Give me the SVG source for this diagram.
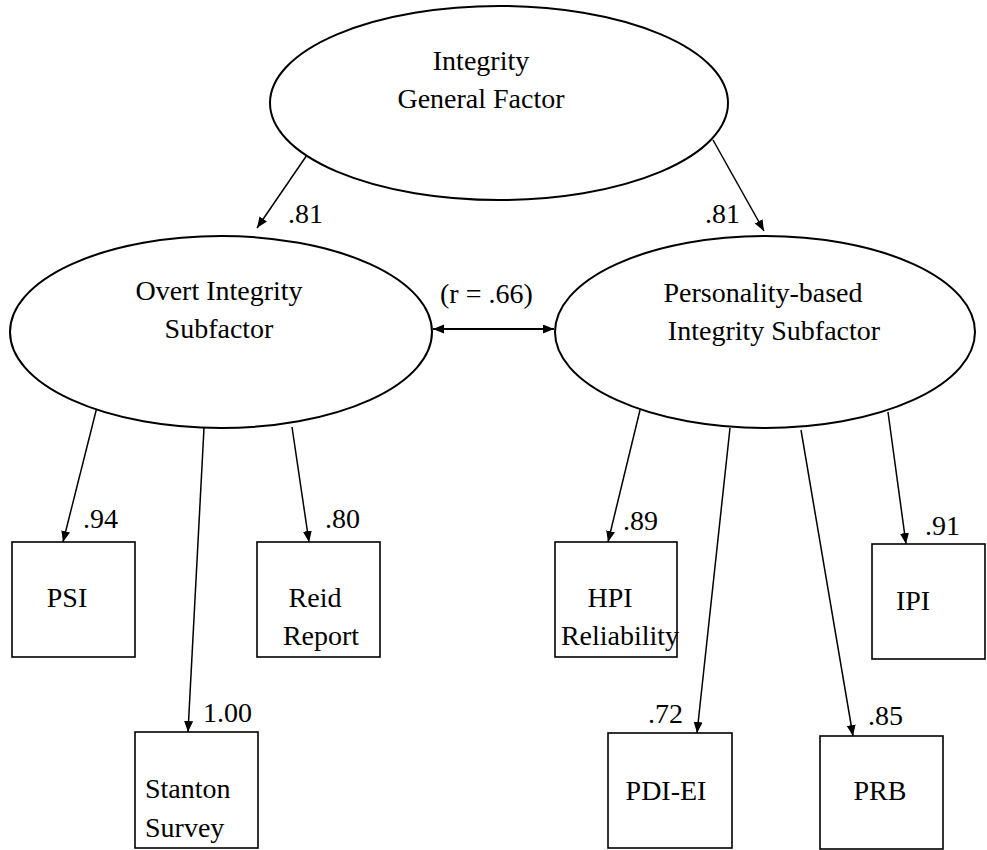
<svg xmlns="http://www.w3.org/2000/svg" width="987" height="850" viewBox="0 0 987 850">
<style>
.node { fill: #ffffff; stroke: #000000; stroke-width: 2; }
.box { fill: #ffffff; stroke: #000000; stroke-width: 1.6; }
.t { font-family: "Liberation Serif", "Times New Roman", serif; font-size: 28px; fill: #000000; }
.m { text-anchor: middle; }
.edge { stroke: #000000; stroke-width: 1.5; fill: none; marker-end: url(#ah); }
.dbl { stroke: #000000; stroke-width: 2.2; fill: none; marker-end: url(#ah); marker-start: url(#ah); }
</style>
<defs>
<marker id="ah" markerUnits="userSpaceOnUse" markerWidth="12" markerHeight="10" refX="11" refY="4.5" orient="auto-start-reverse">
<path d="M0,0 L11,4.5 L0,9 z" fill="#000000"/>
</marker>
</defs>
<rect width="987" height="850" fill="#ffffff"/>

<g id="connectors">
<line class="edge" x1="307" y1="155" x2="257" y2="228"/>
<line class="edge" x1="713" y1="140" x2="764" y2="231"/>
<line class="dbl" x1="433" y1="329" x2="554" y2="329"/>
<line class="edge" x1="97" y1="407" x2="63" y2="542"/>
<line class="edge" x1="204" y1="428" x2="188" y2="732"/>
<line class="edge" x1="292" y1="427" x2="309" y2="542"/>
<line class="edge" x1="640" y1="410" x2="608" y2="542"/>
<line class="edge" x1="730" y1="428" x2="697" y2="733"/>
<line class="edge" x1="801" y1="430" x2="853" y2="736"/>
<line class="edge" x1="888" y1="412" x2="906" y2="544"/>
</g>

<g id="labels">
<text class="t" x="288" y="223">.81</text>
<text class="t" x="705" y="223">.81</text>
<text class="t" x="440" y="303">(r = .66)</text>
<text class="t" x="83" y="528">.94</text>
<text class="t" x="325" y="528">.80</text>
<text class="t" x="203" y="722">1.00</text>
<text class="t" x="623" y="530">.89</text>
<text class="t" x="925" y="535">.91</text>
<text class="t" x="648" y="723">.72</text>
<text class="t" x="868" y="725">.85</text>
</g>

<g id="general">
<ellipse class="node" cx="499" cy="103" rx="229" ry="97"/>
<text class="t m" x="481" y="70">Integrity</text>
<text class="t m" x="481" y="108">General Factor</text>
</g>

<g id="overt">
<ellipse class="node" cx="221" cy="332" rx="211" ry="96"/>
<text class="t m" x="219" y="300">Overt Integrity</text>
<text class="t m" x="219" y="338">Subfactor</text>
</g>

<g id="personality">
<ellipse class="node" cx="765" cy="332" rx="210" ry="96"/>
<text class="t m" x="763" y="302">Personality-based</text>
<text class="t m" x="774" y="340">Integrity Subfactor</text>
</g>

<g id="psi">
<rect class="box" x="12" y="542" width="123" height="115"/>
<text class="t m" x="67" y="607">PSI</text>
</g>

<g id="reid">
<rect class="box" x="257" y="542" width="123" height="115"/>
<text class="t m" x="315" y="607">Reid</text>
<text class="t m" x="321" y="645">Report</text>
</g>

<g id="stanton">
<rect class="box" x="135" y="732" width="123" height="116"/>
<text class="t" x="145" y="798">Stanton</text>
<text class="t" x="145" y="837">Survey</text>
</g>

<g id="hpi">
<rect class="box" x="555" y="542" width="122" height="115"/>
<text class="t m" x="610" y="607">HPI</text>
<text class="t m" x="620" y="645">Reliability</text>
</g>

<g id="ipi">
<rect class="box" x="872" y="544" width="113" height="115"/>
<text class="t m" x="913" y="610">IPI</text>
</g>

<g id="pdiei">
<rect class="box" x="608" y="733" width="124" height="115"/>
<text class="t m" x="666" y="800">PDI-EI</text>
</g>

<g id="prb">
<rect class="box" x="820" y="736" width="123" height="113"/>
<text class="t m" x="880" y="800">PRB</text>
</g>
</svg>
